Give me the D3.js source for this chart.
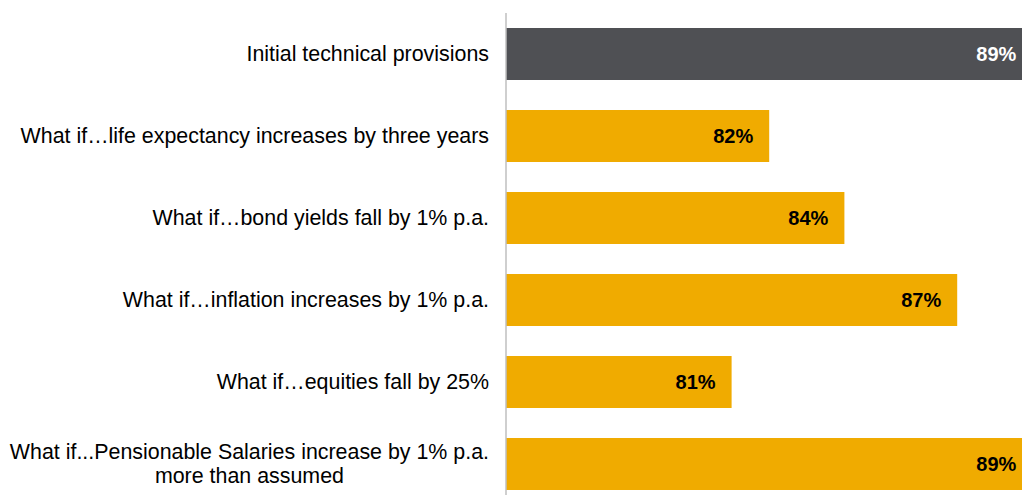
<!DOCTYPE html>
<html>
<head>
<meta charset="utf-8">
<script src="https://cdn.jsdelivr.net/npm/d3@7"></script>
<style>
  body { margin: 0; background: #fff; }
  text { font-family: "Liberation Sans", Arial, sans-serif; }
</style>
</head>
<body>
<div id="chart"></div>
<script>
// data
var categories = [
  ["Initial technical provisions"],
  ["What if\u2026life expectancy increases by three years"],
  ["What if\u2026bond yields fall by 1% p.a."],
  ["What if\u2026inflation increases by 1% p.a."],
  ["What if\u2026equities fall by 25%"],
  ["What if...Pensionable Salaries increase by 1% p.a.", "more than assumed"]
];
var values = [89.0, 82.0, 84.0, 87.0, 81.0, 89.0];
var barColors = ["#4f5054", "#f0ab00", "#f0ab00", "#f0ab00", "#f0ab00", "#f0ab00"];
var labelColors = ["#ffffff", "#000000", "#000000", "#000000", "#000000", "#000000"];

var width = 1022, height = 495;
var axisX = 506;

var svg = d3.select("#chart").append("svg")
  .attr("width", width)
  .attr("height", height);

var x = d3.scaleLinear()
  .domain([75, 89])
  .range([axisX, axisX + 14 * 37.6]);

var y = d3.scaleBand()
  .domain(d3.range(values.length))
  .range([13, 505])
  .paddingInner(0.366)
  .paddingOuter(0.183);

var fmt = function(d) { return d3.format(".0f")(d) + "%"; };

svg.append("g").selectAll("rect")
  .data(values)
  .enter().append("rect")
  .attr("x", x(75))
  .attr("y", function(d, i) { return y(i); })
  .attr("width", function(d) { return x(d) - x(75); })
  .attr("height", y.bandwidth())
  .attr("fill", function(d, i) { return barColors[i]; });

// axis line
svg.append("line")
  .attr("x1", axisX).attr("x2", axisX)
  .attr("y1", 13).attr("y2", height)
  .attr("stroke", "#bfbfbf")
  .attr("stroke-width", 1.5);

// value labels
svg.append("g").selectAll("text")
  .data(values)
  .enter().append("text")
  .attr("x", function(d) { return x(d) - 16; })
  .attr("y", function(d, i) { return y(i) + y.bandwidth() / 2; })
  .attr("dy", ".35em")
  .attr("text-anchor", "end")
  .attr("font-size", 20)
  .attr("font-weight", "bold")
  .attr("fill", function(d, i) { return labelColors[i]; })
  .text(fmt);

// category labels
var labelRight = axisX - 17;
var lineH = 24;
var cat = svg.append("g").selectAll("text")
  .data(categories)
  .enter().append("text")
  .attr("font-size", 21.4)
  .attr("fill", "#000");

cat.each(function(lines, i) {
  var t = d3.select(this);
  var cy = y(i) + y.bandwidth() / 2;
  var y0 = cy - (lines.length - 1) * lineH / 2;
  lines.forEach(function(s, j) {
    t.append("tspan")
      .attr("y", y0 + j * lineH)
      .attr("dy", ".35em")
      .text(s);
  });
  if (lines.length == 1) {
    t.attr("text-anchor", "end").selectAll("tspan").attr("x", labelRight);
  } else {
    // wrapped labels are centred on the longest line
    var w = d3.max(t.selectAll("tspan").nodes(), function(n) { return n.getComputedTextLength(); });
    t.attr("text-anchor", "middle").selectAll("tspan").attr("x", labelRight - w / 2);
  }
});
</script>
</body>
</html>
